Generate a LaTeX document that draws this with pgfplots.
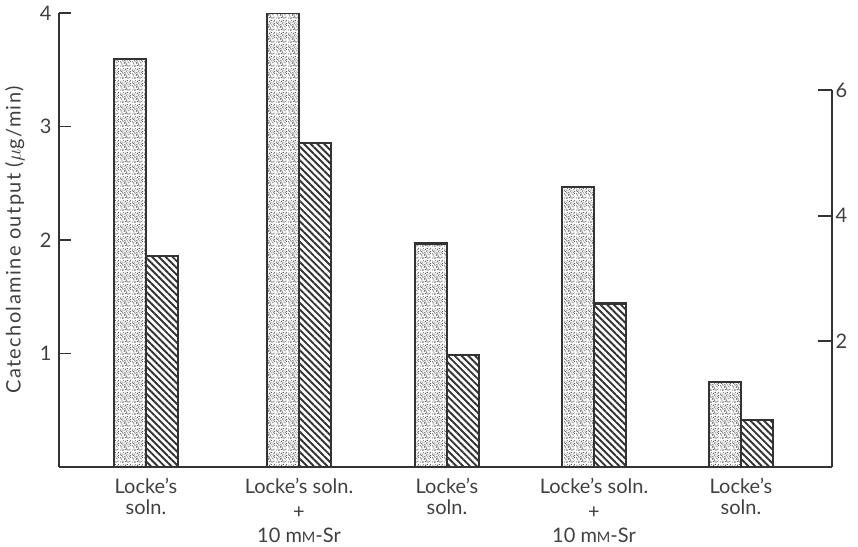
\documentclass[border=0pt]{standalone}
\usepackage{pgfplots}
\usepackage{pgfplotstable}
\pgfplotsset{compat=1.18}
\usetikzlibrary{patterns.meta}
\usepackage{fontspec}
\setmainfont{Lato}

% fine irregular stipple used for the first bar of each pair
\tikzdeclarepattern{
  name=stipple, type=uncolored,
  bounding box={(0pt,0pt) and (12pt,12pt)},
  tile size={(12pt,12pt)},
  code={
    \foreach \x/\y in {0.6/1.1, 3.1/0.4, 5.8/1.6, 8.7/0.7, 10.9/2.2,
                       1.9/3.4, 4.6/3.9, 7.2/3.1, 9.8/4.4, 0.4/5.7,
                       3.3/6.2, 6.1/5.4, 8.4/6.6, 11.2/6.0, 1.6/8.3,
                       4.4/8.8, 6.9/7.9, 9.6/8.6, 0.9/10.6, 3.6/11.1,
                       5.9/10.2, 8.2/11.3, 10.7/10.1, 2.5/9.6, 7.6/1.9,
                       5.0/5.1, 11.5/8.0, 2.4/2.0, 4.1/1.3, 9.9/1.5,
                       6.6/4.2, 1.2/4.6, 8.9/5.3, 10.6/7.2, 2.9/7.4,
                       5.3/6.9, 7.5/9.4, 11.3/11.6, 0.3/8.9, 6.5/11.8}
      \fill (\x pt,\y pt) circle (0.58pt);
  }
}

\pgfplotstableread{
x    stip  hatch
146  3.60  1.86
299  4.00  2.855
447  1.97  0.985
594  2.47  1.44
741  0.75  0.41
}\outputtable

\begin{document}
\begin{tikzpicture}
\begin{axis}[
  name=ax,
  scale only axis,
  width=773pt, height=453.4pt,
  xmin=59, xmax=832, ymin=0, ymax=4,
  axis x line=bottom, axis y line=left,
  axis line style={-, line width=2pt, black!80},
  tick align=inside,
  major tick length=12pt,
  ytick={1,2,3,4},
  ytick style={line width=1.6pt, black!80},
  xtick={146,299,447,594,741},
  xtick style={draw=none},
  xticklabels={
    {Locke’s\\soln.},
    {Locke’s soln.\\[4pt]+\\[4pt]10 m{\fontsize{14.5}{14.5}\selectfont M}-Sr},
    {Locke’s\\soln.},
    {Locke’s soln.\\[4pt]+\\[4pt]10 m{\fontsize{14.5}{14.5}\selectfont M}-Sr},
    {Locke’s\\soln.}},
  xticklabel style={align=center, font=\fontsize{20}{20.5}\selectfont, text=black!75,
    yshift=-8pt},
  yticklabel style={font=\fontsize{20}{21}\selectfont, text=black!75, xshift=-4pt},
  /pgf/number format/assume math mode=true,
  ylabel={Catecholamine output (\textit{$\mu$}g/min)},
  every axis y label/.style={at={(axis description cs:-0.057,0.5)}, rotate=90, anchor=center,
    font=\fontsize{20}{21}\selectfont\addfontfeatures{LetterSpace=7}, text=black!75},
  bar width=32,
]
\addplot[ybar, bar shift=-16, draw=black!80, line width=2.2pt,
  pattern=stipple, pattern color=black!72] table[x=x, y=stip] {\outputtable};
\addplot[ybar, bar shift=16, draw=black!80, line width=2.2pt,
  pattern={Lines[angle=-45, distance=4.8pt, line width=1.9pt]}, pattern color=black!80]
  table[x=x, y=hatch] {\outputtable};
\end{axis}

% right-hand scale
\begin{axis}[
  at={(ax.south east)}, anchor=south east,
  scale only axis,
  width=773pt, height=376.5pt,
  xmin=59, xmax=832, ymin=0, ymax=6,
  axis x line=none, axis y line=right,
  axis line style={-, line width=2pt, black!80},
  tick align=inside,
  major tick length=14pt,
  ytick={2,4,6},
  ytick style={line width=1.6pt, black!80},
  yticklabel style={font=\fontsize{20}{21}\selectfont, text=black!75},
  /pgf/number format/assume math mode=true,
]
\end{axis}

\pgfresetboundingbox
\useasboundingbox (ax.south west) ++(-59pt,-79.3pt) rectangle ++(858pt,546pt);
\end{tikzpicture}
\end{document}
